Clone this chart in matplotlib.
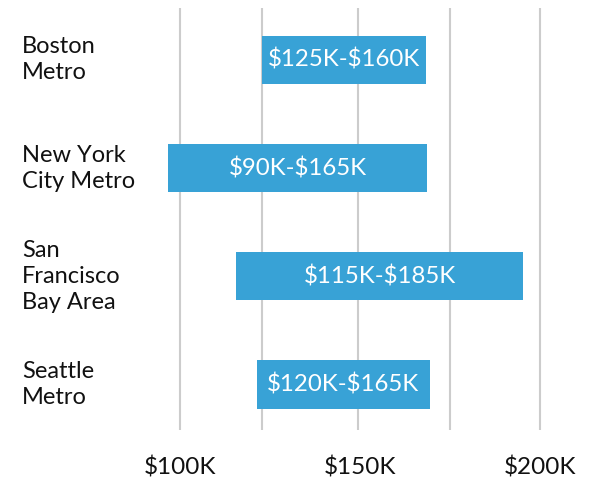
import matplotlib.pyplot as plt
from matplotlib.transforms import blended_transform_factory

# salary ranges by metro area (bar extents, in $K)
regions = ["Boston\nMetro", "New York\nCity Metro", "San\nFrancisco\nBay Area", "Seattle\nMetro"]
range_low = [122.9, 96.7, 115.6, 121.4]
range_high = [168.3, 168.6, 195.3, 169.4]
range_labels = [r"\$125K-\$160K", r"\$90K-\$165K", r"\$115K-\$185K", r"\$120K-\$165K"]

grid_values = [100, 122.8, 149.4, 175, 200]
tick_values = [100, 150, 200]
tick_labels = [r"\$100K", r"\$150K", r"\$200K"]

plt.rcParams['font.family'] = ['Lato', 'DejaVu Sans']

fig = plt.figure(figsize=(5.94, 4.79), dpi=100)
ax = fig.add_axes([150 / 594, 1 - 430 / 479, 410 / 594, 422 / 479])

for g in grid_values:
    ax.axvline(g, color='#cccccc', linewidth=1.5, zorder=0)

ypos = list(range(len(regions)))
widths = [h - l for l, h in zip(range_low, range_high)]
ax.barh(ypos, widths, left=range_low, height=0.445, color='#38a2d6', zorder=2)

for y, l, h, txt in zip(ypos, range_low, range_high, range_labels):
    ax.text((l + h) / 2, y, txt, color='white', fontsize=17.3,
            ha='center', va='center', zorder=3)

# category names sit at the figure's left edge, centred on each bar
trans = blended_transform_factory(fig.transFigure, ax.transData)
for y, name in zip(ypos, regions):
    ax.text(22 / 594, y, name, transform=trans, fontsize=17,
            ha='left', va='center', color='#111111', linespacing=1.3)

ax.set_xlim(100 + (150 - 180) / 3.6, 100 + (560 - 180) / 3.6)
ax.set_ylim(3.42, -0.48)
ax.set_xticks(tick_values)
ax.set_xticklabels(tick_labels, fontsize=17.5, color='#111111')
ax.tick_params(axis='x', length=0, pad=19)
ax.set_yticks([])
for s in ax.spines.values():
    s.set_visible(False)

fig.savefig("out.png", dpi=100)
